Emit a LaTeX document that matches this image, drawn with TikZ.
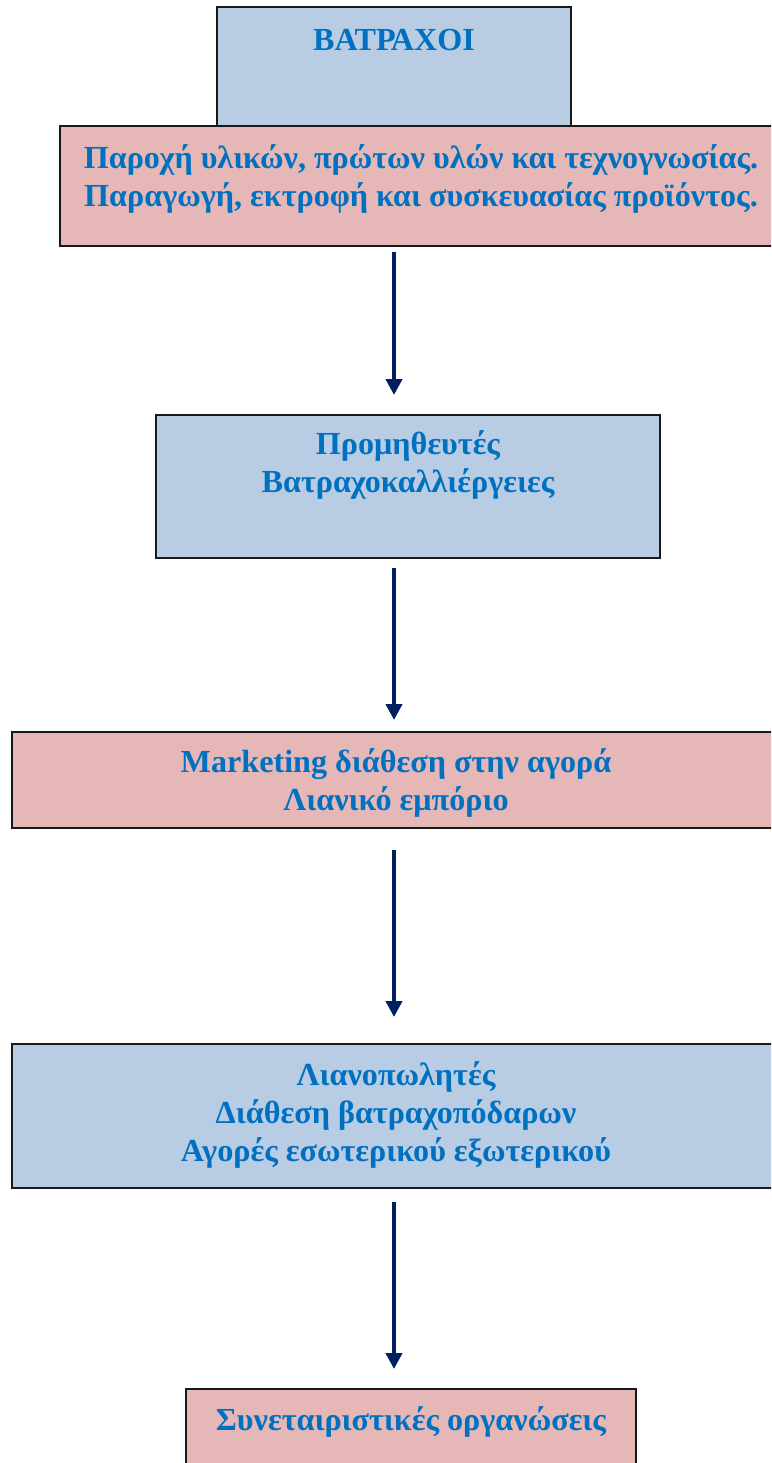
\documentclass[tikz,border=0pt]{standalone}
\usepackage{fontspec}
\setmainfont{Liberation Serif}
\usetikzlibrary{positioning,arrows.meta}
\definecolor{boxblue}{HTML}{B8CCE4}
\definecolor{boxpink}{HTML}{E5B8B7}
\definecolor{textblue}{HTML}{0070C0}
\definecolor{arrownavy}{HTML}{002060}
\newdimen\pxu \pxu=0.02cm
\begin{document}
\begin{tikzpicture}[x=0.02cm, y=-0.02cm,
    box/.style={draw=black!90, line width=2.5\pxu, inner sep=0, outer sep=0},
    bluebox/.style={box, fill=boxblue},
    pinkbox/.style={box, fill=boxpink},
    boxtext/.style={inner sep=0, align=center, text=textblue, font=\fontsize{18.3}{21.5}\selectfont\bfseries},
    flow/.style={draw=arrownavy, line width=0.08cm, -{Triangle[length=0.32cm, width=0.32cm]}}]
    \useasboundingbox (0,0) rectangle (771,1463);
    \clip (0,0) rectangle (771,1463);
    % boxes
    \node[bluebox, minimum width=354\pxu, minimum height=120\pxu] (frogs) at (394,67) {};
    \node[pinkbox, minimum width=722\pxu, minimum height=120\pxu] (supply) at (421,186) {};
    \node[bluebox, minimum width=504\pxu, minimum height=143\pxu] (growers) at (408,486.5) {};
    \node[pinkbox, minimum width=768\pxu, minimum height=96\pxu] (market) at (396,780) {};
    \node[bluebox, minimum width=768\pxu, minimum height=144\pxu] (retail) at (396,1116) {};
    \node[pinkbox, minimum width=450\pxu, minimum height=86\pxu] (coop) at (411,1432) {};
    % texts
    \node[boxtext, below=17\pxu of frogs.north] (frogs-t) {\strut ΒΑΤΡΑΧΟΙ};
    \node[boxtext, below=16\pxu of supply.north] (supply-t) {\strut Παροχή υλικών, πρώτων υλών και τεχνογνωσίας.\\Παραγωγή, εκτροφή και συσκευασίας προϊόντος.};
    \node[boxtext, below=13\pxu of growers.north] (growers-t) {\strut Προμηθευτές\\Βατραχοκαλλιέργειες};
    \node[boxtext, below=14\pxu of market.north] (market-t) {\strut Marketing διάθεση στην αγορά\\Λιανικό εμπόριο};
    \node[boxtext, below=15\pxu of retail.north] (retail-t) {\strut Λιανοπωλητές\\Διάθεση βατραχοπόδαρων\\Αγορές εσωτερικού εξωτερικού};
    \node[boxtext, below=15\pxu of coop.north] (coop-t) {\strut Συνεταιριστικές οργανώσεις};
    % arrows
    \draw[flow, shorten <=0.12cm, shorten >=0.4cm] (supply.south -| frogs) -- (growers.north -| frogs);
    \draw[flow, shorten <=0.2cm, shorten >=0.24cm] (growers.south -| frogs) -- (market.north -| frogs);
    \draw[flow, shorten <=0.44cm, shorten >=0.54cm] (market.south -| frogs) -- (retail.north -| frogs);
    \draw[flow, shorten <=0.28cm, shorten >=0.4cm] (retail.south -| frogs) -- (coop.north -| frogs);
\end{tikzpicture}
\end{document}
